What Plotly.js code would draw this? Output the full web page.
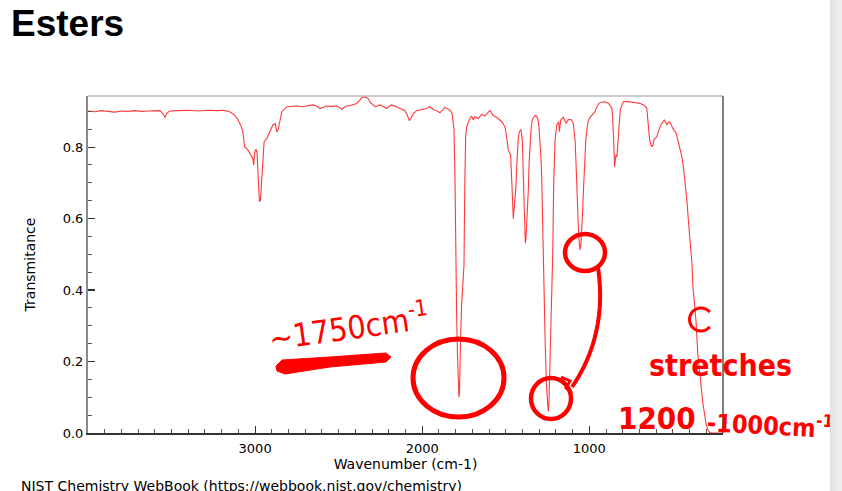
<!DOCTYPE html>
<html><head><meta charset="utf-8">
<script src="https://cdn.plot.ly/plotly-3.0.1.min.js"></script>
<style>
html,body{margin:0;padding:0;background:#fff;overflow:hidden}
#chart{width:842px;height:491px;position:absolute;left:0;top:0}
#sb{position:absolute;left:830px;top:0;width:12px;height:491px;background:linear-gradient(to right,#e2e2e2,#efefef)}
</style></head><body>
<div id="chart"></div><div id="sb"></div>
<script>
// Spectrum (wavenumber in cm-1, transmittance)
const wavenumber = [4000,3960,3920,3880,3840,3800,3760,3720,3680,3640,3600,3569,3550,3539,3528,3510,3460,3400,3340,3280,3230,3190,3160,3142,3120,3102,3085,3073,3063,3043,3027,3015,3008,3003,2995,2988,2983,2978,2974,2968,2962,2956,2950,2946,2930,2910,2894,2880,2870,2862,2856,2840,2810,2780,2750,2720,2690,2651,2630,2611,2590,2571,2540,2512,2495,2482,2468,2452,2420,2392,2375,2362,2336,2322,2312,2295,2282,2265,2253,2230,2213,2195,2183,2160,2133,2115,2103,2090,2077,2065,2053,2033,2005,1974,1954,1934,1915,1894,1880,1864,1848,1834,1822,1815,1810,1804,1799,1794,1789,1784,1780,1777,1774,1770,1764,1757,1750,1745,1740,1734,1724,1714,1704,1694,1684,1664,1644,1624,1610,1595,1575,1560,1545,1525,1505,1495,1485,1471,1465,1460,1455,1450,1445,1439,1435,1431,1425,1419,1409,1401,1396,1391,1387,1383,1379,1375,1370,1365,1360,1355,1348,1341,1331,1321,1309,1302,1295,1290,1285,1278,1271,1264,1257,1250,1246,1242,1236,1230,1224,1219,1213,1205,1195,1183,1179,1175,1171,1163,1155,1147,1139,1132,1125,1109,1100,1095,1090,1085,1080,1075,1070,1065,1060,1055,1050,1045,1040,1035,1028,1021,1013,1005,995,985,975,965,958,951,943,935,920,905,895,885,875,865,860,855,852,849,845,841,835,830,825,820,815,805,795,775,755,735,715,695,676,665,656,651,646,640,632,622,612,604,596,589,582,574,566,559,552,544,536,528,520,513,506,498,490,480,473,466,456,446,436,426,416,408,396,386,380,370,362,351,341,331,321,311,301,291,280,271,240,200];
const transmittance = [0.901,0.899,0.902,0.900,0.898,0.901,0.900,0.902,0.900,0.901,0.902,0.902,0.892,0.883,0.895,0.901,0.902,0.903,0.901,0.903,0.902,0.903,0.900,0.896,0.888,0.876,0.860,0.843,0.801,0.792,0.778,0.770,0.750,0.785,0.794,0.785,0.730,0.680,0.647,0.652,0.690,0.726,0.790,0.815,0.824,0.848,0.862,0.866,0.843,0.850,0.862,0.899,0.913,0.914,0.915,0.913,0.915,0.918,0.914,0.908,0.912,0.915,0.914,0.915,0.911,0.906,0.911,0.915,0.918,0.922,0.930,0.939,0.940,0.935,0.926,0.918,0.913,0.916,0.918,0.913,0.908,0.915,0.918,0.914,0.908,0.905,0.902,0.890,0.874,0.882,0.894,0.902,0.905,0.908,0.913,0.906,0.902,0.896,0.903,0.911,0.907,0.904,0.895,0.875,0.850,0.72,0.47,0.33,0.22,0.14,0.10,0.11,0.20,0.28,0.36,0.42,0.47,0.70,0.83,0.857,0.870,0.880,0.887,0.876,0.885,0.880,0.892,0.887,0.895,0.902,0.889,0.885,0.880,0.871,0.857,0.830,0.792,0.778,0.726,0.660,0.600,0.630,0.661,0.689,0.740,0.782,0.825,0.843,0.849,0.820,0.740,0.652,0.580,0.531,0.545,0.577,0.630,0.680,0.760,0.820,0.855,0.876,0.885,0.889,0.880,0.860,0.820,0.775,0.717,0.52,0.38,0.25,0.14,0.07,0.06,0.08,0.18,0.30,0.42,0.50,0.70,0.820,0.862,0.871,0.843,0.870,0.876,0.880,0.883,0.875,0.866,0.872,0.877,0.877,0.870,0.862,0.845,0.820,0.760,0.680,0.620,0.568,0.530,0.512,0.530,0.568,0.620,0.680,0.760,0.820,0.855,0.876,0.884,0.889,0.894,0.899,0.910,0.918,0.922,0.925,0.927,0.927,0.925,0.922,0.916,0.908,0.880,0.843,0.790,0.745,0.765,0.778,0.773,0.810,0.843,0.880,0.904,0.918,0.927,0.928,0.927,0.926,0.925,0.922,0.918,0.914,0.908,0.880,0.848,0.825,0.806,0.801,0.822,0.826,0.829,0.840,0.852,0.860,0.866,0.872,0.876,0.870,0.862,0.868,0.871,0.865,0.857,0.850,0.846,0.838,0.825,0.810,0.790,0.773,0.740,0.699,0.650,0.600,0.530,0.475,0.410,0.360,0.316,0.223,0.170,0.120,0.085,0.055,0.025,0.009,0.002,0.0,0.0,0.0];
const xTickVals = [3000, 2000, 1000];
const xTickText = ['3000', '2000', '1000'];
const yTickVals = [0, 0.2, 0.4, 0.6, 0.8];
const yTickText = ['0.0', '0.2', '0.4', '0.6', '0.8'];
const chartTitle = 'Esters';
const xTitle = 'Wavenumber (cm-1)';
const yTitle = 'Transmitance';
const sourceNote = 'NIST Chemistry WebBook (https://webbook.nist.gov/chemistry)';

// page-pixel -> paper helpers (plot area 88..723 x 96..433)
const L = 88, R = 723, T = 96, B = 433;
const X = p => (p - L) / (R - L);
const Y = p => (B - p) / (B - T);
const RED = '#ff0000';
const hand = 'Liberation Sans Narrow, DejaVu Sans Condensed, Liberation Sans, sans-serif';

function pathFrom(pts, close) {
  return pts.map((p, i) => (i ? 'L' : 'M') + X(p[0]).toFixed(5) + ',' + Y(p[1]).toFixed(5)).join(' ') + (close ? ' Z' : '');
}
function arcPts(cx, cy, rx, ry, a0, a1, n) {
  const out = [];
  for (let i = 0; i <= n; i++) {
    const a = (a0 + (a1 - a0) * i / n) * Math.PI / 180;
    out.push([cx + rx * Math.cos(a), cy + ry * Math.sin(a)]);
  }
  return out;
}
function bez(p0, p1, p2, p3, n) {
  const out = [];
  for (let i = 0; i <= n; i++) {
    const t = i / n, u = 1 - t;
    out.push([u*u*u*p0[0] + 3*u*u*t*p1[0] + 3*u*t*t*p2[0] + t*t*t*p3[0],
              u*u*u*p0[1] + 3*u*u*t*p1[1] + 3*u*t*t*p2[1] + t*t*t*p3[1]]);
  }
  return out;
}

const trace = {
  x: wavenumber, y: transmittance, type: 'scatter', mode: 'lines',
  line: {color: '#ff3a3a', width: 1.1}, hoverinfo: 'skip'
};

const shapes = [
  {type: 'line', xref: 'paper', yref: 'paper', x0: 0, x1: 1, y0: 1, y1: 1, line: {color: '#9a9a9a', width: 1.2}},
  {type: 'line', xref: 'paper', yref: 'paper', x0: 1, x1: 1, y0: 0, y1: 1, line: {color: '#555', width: 1.5}},
  {type: 'circle', xref: 'paper', yref: 'paper', x0: X(413), x1: X(504), y0: Y(417), y1: Y(339), line: {color: RED, width: 5}},
  {type: 'circle', xref: 'paper', yref: 'paper', x0: X(565), x1: X(605), y0: Y(271), y1: Y(234), line: {color: RED, width: 4.5}},
  {type: 'circle', xref: 'paper', yref: 'paper', x0: X(531), x1: X(571), y0: Y(419), y1: Y(378), line: {color: RED, width: 4.5}},
  {type: 'path', xref: 'paper', yref: 'paper', path: pathFrom(bez([598, 268], [603, 300], [601, 345], [572, 387], 24)), line: {color: RED, width: 4}},
  {type: 'path', xref: 'paper', yref: 'paper', path: pathFrom([[561, 377], [570, 381], [566, 388], [572, 393]]), line: {color: RED, width: 3}},
  {type: 'path', xref: 'paper', yref: 'paper', path: pathFrom(arcPts(701, 319.5, 11.5, 11.5, -40, -320, 30)), line: {color: RED, width: 3}},
  {type: 'path', xref: 'paper', yref: 'paper', fillcolor: RED,
   path: pathFrom([[276, 366], [282, 360], [330, 357], [386, 353], [391, 357], [386, 362], [330, 367], [285, 374], [277, 371]], true),
   line: {color: RED, width: 1}}
];

const annotations = [
  {text: '~1750cm<sup>-1</sup>', xref: 'paper', yref: 'paper', x: X(348), y: Y(326), xanchor: 'center', yanchor: 'middle',
   textangle: -8, showarrow: false, font: {family: hand, size: 32, color: RED}},
  {text: '<b>stretches</b>', xref: 'paper', yref: 'paper', x: X(720), y: Y(365), xanchor: 'center', yanchor: 'middle',
   showarrow: false, font: {family: hand, size: 30, color: RED}},
  {text: '<b>1200</b>', xref: 'paper', yref: 'paper', x: X(657), y: Y(418), xanchor: 'center', yanchor: 'middle',
   showarrow: false, font: {family: hand, size: 31, color: RED}},
  {text: '<b>-1000cm<sup>-1</sup></b>', xref: 'paper', yref: 'paper', x: X(704), y: Y(424), xanchor: 'left', yanchor: 'middle',
   textangle: 3, showarrow: false, font: {family: hand, size: 25, color: RED}},
  {text: sourceNote, xref: 'paper', yref: 'paper', x: X(19), y: Y(476), xanchor: 'left', yanchor: 'top',
   showarrow: false, font: {family: 'DejaVu Sans', size: 14, color: '#000'}}
];

const layout = {
  width: 842, height: 491,
  margin: {l: L, r: 842 - R, t: T, b: 491 - B, pad: 0},
  paper_bgcolor: '#fff', plot_bgcolor: '#fff',
  showlegend: false,
  title: {text: '<b>' + chartTitle + '</b>', font: {family: 'Liberation Sans, Arial, sans-serif', size: 37, color: '#000'},
          xref: 'container', x: 11 / 842, xanchor: 'left', yref: 'container', y: 1 - 23 / 491, yanchor: 'middle'},
  xaxis: {
    range: [4000, 200], tickmode: 'array', tickvals: xTickVals, ticktext: xTickText,
    ticks: 'inside', ticklen: 7, tickwidth: 1.2, tickcolor: '#333', ticklabelstandoff: 3,
    minor: {dtick: 100, tick0: 0, ticks: 'inside', ticklen: 4, tickwidth: 1, tickcolor: '#555', showgrid: false},
    showline: true, linecolor: '#333', linewidth: 1.5, showgrid: false, zeroline: false,
    tickfont: {family: 'DejaVu Sans', size: 13, color: '#000'},
    title: {text: xTitle, font: {family: 'DejaVu Sans', size: 14, color: '#000'}, standoff: 2}
  },
  yaxis: {
    range: [0, 0.943], tickmode: 'array', tickvals: yTickVals, ticktext: yTickText,
    ticks: 'inside', ticklen: 7, tickwidth: 1.2, tickcolor: '#333',
    minor: {dtick: 0.05, tick0: 0, ticks: 'inside', ticklen: 4, tickwidth: 1, tickcolor: '#555', showgrid: false},
    showline: true, linecolor: '#8a8a8a', linewidth: 2, showgrid: false, zeroline: false,
    tickfont: {family: 'DejaVu Sans', size: 13, color: '#000'},
    title: {text: yTitle, font: {family: 'DejaVu Sans', size: 14, color: '#000'}, standoff: 24}
  },
  shapes: shapes,
  annotations: annotations
};

Plotly.newPlot('chart', [trace], layout, {staticPlot: true, displayModeBar: false});
</script>
</body></html>
